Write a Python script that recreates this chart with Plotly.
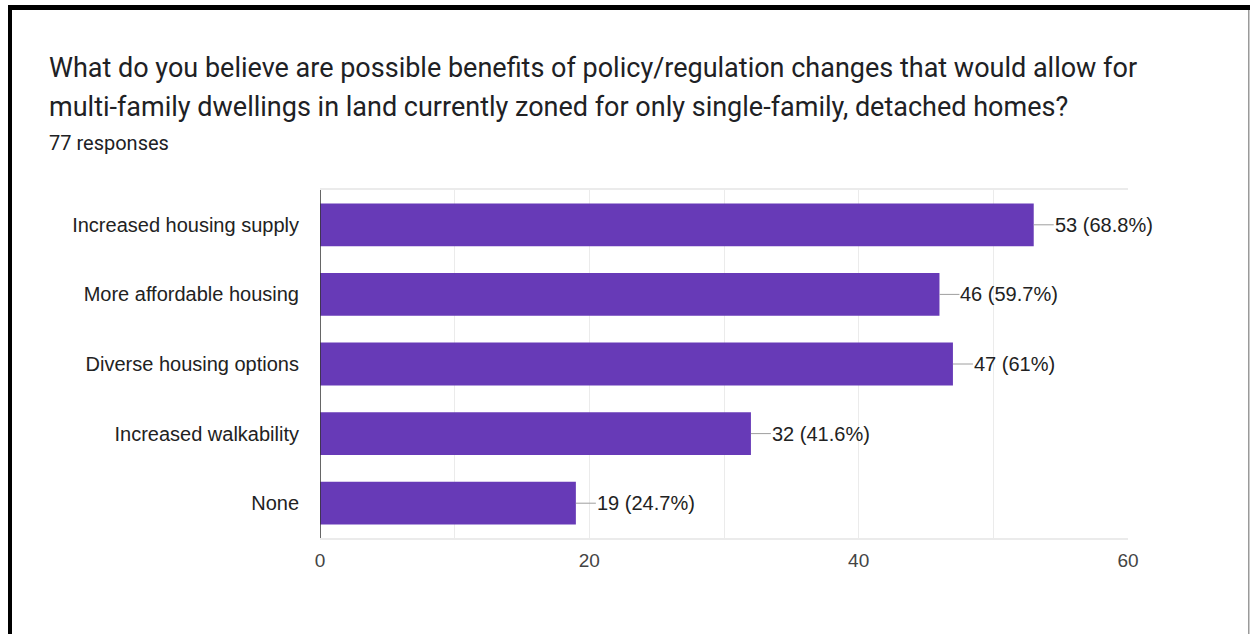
import plotly.graph_objects as go

# Survey results
categories = [
    "Increased housing supply",
    "More affordable housing",
    "Diverse housing options",
    "Increased walkability",
    "None",
]
counts = [53, 46, 47, 32, 19]
percents = ["68.8%", "59.7%", "61%", "41.6%", "24.7%"]
x_ticks = [0, 20, 40, 60]

title_lines = [
    "What do you believe are possible benefits of policy/regulation changes that would allow for",
    "multi-family dwellings in land currently zoned for only single-family, detached homes?",
]
subtitle = "77 responses"

W, H = 1250, 634
L, R, T, B = 320, 122, 190, 96
PW, PH = W - L - R, H - T - B


def px(x):
    return (x - L) / PW


def py(y):
    return (H - B - y) / PH


PURPLE = "#673ab7"
LABEL_FONT = "Liberation Sans, Arial, sans-serif"

fig = go.Figure(
    go.Bar(
        x=counts,
        y=categories,
        orientation="h",
        marker=dict(color=PURPLE, line=dict(width=0)),
        hoverinfo="skip",
    )
)

# value labels with a short leader line
for c, v, p in zip(categories, counts, percents):
    fig.add_annotation(
        x=v, y=c, xref="x", yref="y",
        text=f"{v} ({p})",
        showarrow=True, arrowhead=0, arrowwidth=1, arrowcolor="#9e9e9e",
        ax=20, ay=0, xanchor="left", borderpad=0, standoff=0,
        font=dict(family=LABEL_FONT, size=20, color="#222222"),
    )

# heading
for i, line in enumerate(title_lines):
    fig.add_annotation(
        x=px(47), y=py(68 + 39 * i), xref="paper", yref="paper",
        text=line, showarrow=False, xanchor="left", yanchor="middle",
        font=dict(family="Roboto, sans-serif", size=27, color="#202124"),
    )
fig.add_annotation(
    x=px(47), y=py(143), xref="paper", yref="paper",
    text=subtitle, showarrow=False, xanchor="left", yanchor="middle",
    font=dict(family="Roboto, sans-serif", size=20, color="#202124"),
)

# frame around the card
frame = [
    dict(x0=px(8), x1=px(W), y0=py(5), y1=py(10), color="#000000"),
    dict(x0=px(8), x1=px(12), y0=py(5), y1=py(H), color="#000000"),
    dict(x0=px(1248), x1=px(1249.5), y0=py(10), y1=py(H), color="#9a9a9a"),
]
for f in frame:
    fig.add_shape(
        type="rect", xref="paper", yref="paper",
        x0=f["x0"], x1=f["x1"], y0=f["y0"], y1=f["y1"],
        fillcolor=f["color"], line=dict(width=0), layer="above",
    )

# vertical axis line at zero
fig.add_shape(
    type="line", xref="x", yref="paper", x0=0, x1=0, y0=0, y1=1,
    line=dict(color="#333333", width=1.5), layer="above",
)

fig.update_layout(
    width=W, height=H,
    margin=dict(l=L, r=R, t=T, b=B),
    paper_bgcolor="white", plot_bgcolor="white",
    showlegend=False,
    bargap=0.385,
    xaxis=dict(
        range=[0, 60], tickvals=x_ticks, ticktext=[str(t) for t in x_ticks],
        showgrid=True, gridcolor="#ebebeb", gridwidth=1,
        minor=dict(dtick=10, showgrid=True, gridcolor="#ebebeb", gridwidth=1),
        zeroline=False, showline=True, mirror=True, linecolor="#ebebeb", linewidth=1.5,
        ticks="", ticklabelstandoff=4,
        tickfont=dict(family=LABEL_FONT, size=19, color="#444444"),
        fixedrange=True,
    ),
    yaxis=dict(
        categoryorder="array", categoryarray=categories[::-1],
        showgrid=False, zeroline=False, showline=False, ticks="",
        ticklabelstandoff=20,
        tickfont=dict(family=LABEL_FONT, size=20, color="#222222"),
        fixedrange=True,
    ),
)

fig.write_html("out.html", config={"displayModeBar": False})
